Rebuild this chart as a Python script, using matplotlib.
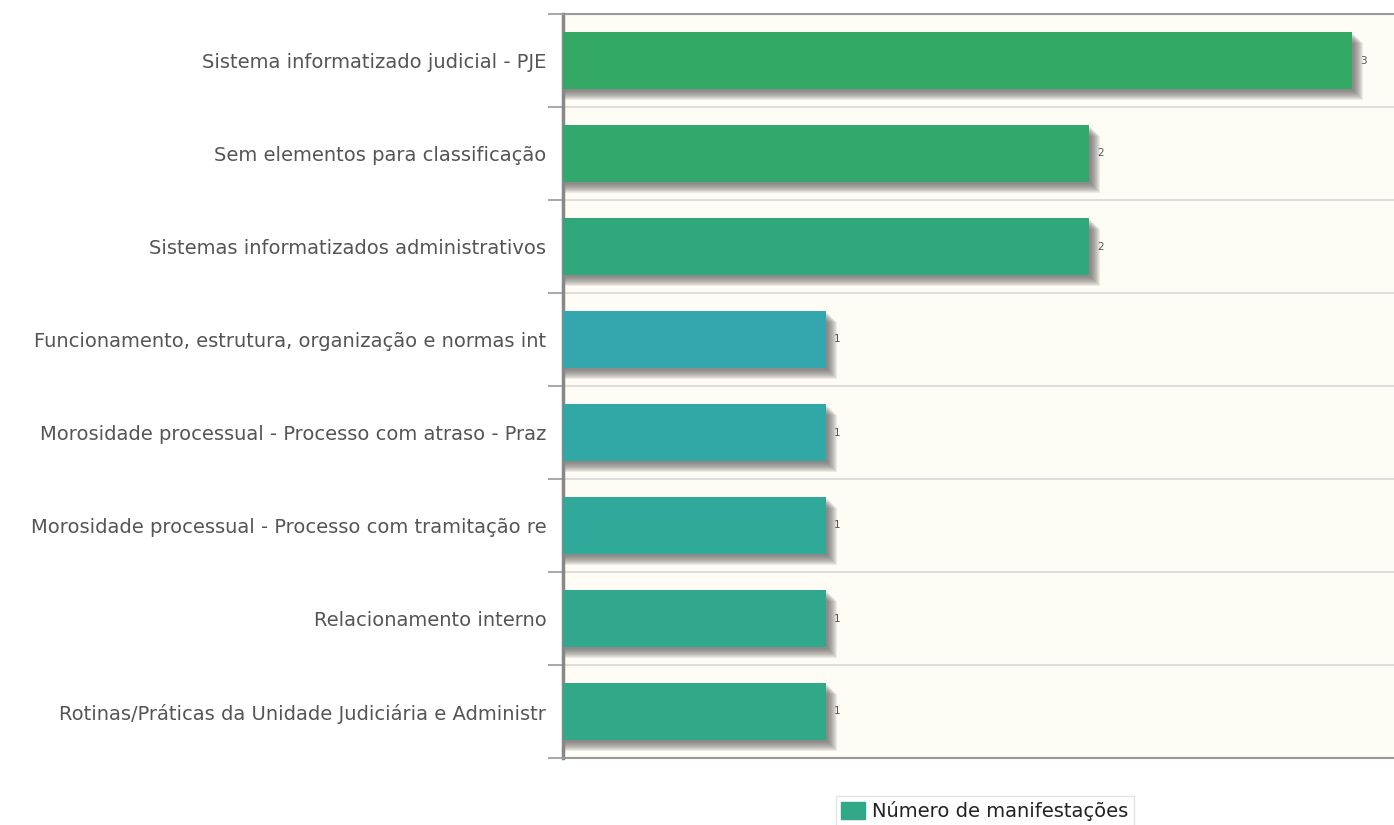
import matplotlib.pyplot as plt
from matplotlib.patches import Patch

# -----------------------------------------
# data
# -----------------------------------------
categories = [
    "Sistema informatizado judicial - PJE",
    "Sem elementos para classificação",
    "Sistemas informatizados administrativos",
    "Funcionamento, estrutura, organização e normas int",
    "Morosidade processual - Processo com atraso - Praz",
    "Morosidade processual - Processo com tramitação re",
    "Relacionamento interno",
    "Rotinas/Práticas da Unidade Judiciária e Administr",
]
values = [3, 2, 2, 1, 1, 1, 1, 1]
bar_colors = ["#32a864", "#32a76e", "#31a87b", "#33a6ae",
              "#31a8a6", "#30a89a", "#31a88d", "#31a888"]
legend_label = "Número de manifestações"

# -----------------------------------------
# figure
# -----------------------------------------
fig = plt.figure(figsize=(13.94, 8.25), dpi=100)
ax = fig.add_axes([563 / 1394, 1 - 758 / 825, 1 - 563 / 1394, (758 - 14) / 825])
ax.set_facecolor("#fffcf5")

n = len(categories)
ypos = list(range(n))
h = 0.61
px_x = 1 / 263.0   # one pixel in data units (x)
px_y = 1 / 93.0    # one pixel in data units (y)

# blurred drop shadow behind the bars
for k in range(11, 1, -1):
    ax.barh([y + k * px_y for y in ypos], [v + k * px_x for v in values],
            height=h, left=0, color="#555555", alpha=0.1, zorder=2, linewidth=0)

ax.barh(ypos, values, height=h, color=bar_colors, zorder=3, linewidth=0)

for y, v in zip(ypos, values):
    ax.text(v + 0.03, y, str(v), fontsize=7.5, color="#555555",
            va="center", ha="left", zorder=4)

ax.set_ylim(n - 0.5, -0.5)
ax.set_xlim(0, 3.16)

# grid lines between categories
for b in range(1, n):
    ax.axhline(b - 0.5, color="#d8d8d8", lw=1.2, zorder=1)

ax.set_yticks(ypos)
ax.set_yticklabels(categories, fontsize=14, color="#555555")
ax.set_yticks([b - 0.5 for b in range(n + 1)], minor=True)
ax.tick_params(axis="y", which="major", length=0, pad=12)
ax.tick_params(axis="y", which="minor", length=11, width=1.2, color="#999999")
ax.set_xticks([])

ax.spines["right"].set_visible(False)
ax.spines["left"].set_color("#888888")
ax.spines["left"].set_linewidth(2.5)
ax.spines["top"].set_color("#999999")
ax.spines["top"].set_linewidth(1.5)
ax.spines["bottom"].set_color("#999999")
ax.spines["bottom"].set_linewidth(1.5)

fig.legend(handles=[Patch(color="#31a888", label=legend_label)],
           loc="center", bbox_to_anchor=(985 / 1394, 1 - 811 / 825),
           fontsize=14, frameon=True, edgecolor="#dddddd", fancybox=False,
           handlelength=1.2, handleheight=1.0, handletextpad=0.4,
           borderpad=0.25, labelcolor="#222222")

fig.savefig("out.png", dpi=100)
